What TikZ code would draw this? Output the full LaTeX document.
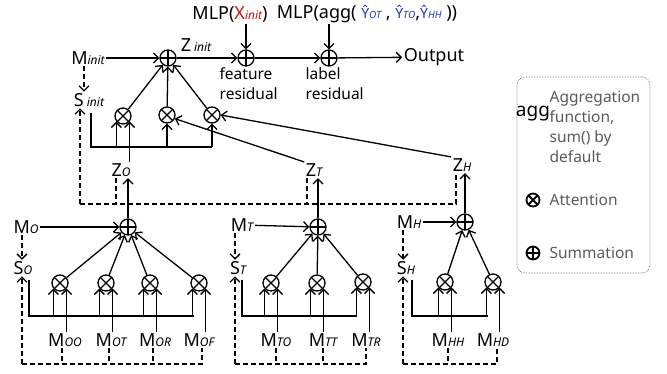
\documentclass[tikz,border=0pt]{standalone}
\usepackage{fontspec}
\setmainfont{Noto Sans}
\usetikzlibrary{positioning, arrows.meta}

\definecolor{xred}{RGB}{200,20,20}
\definecolor{yblue}{RGB}{25,55,205}
\definecolor{legendgray}{RGB}{90,90,90}

\newcommand{\sub}[1]{{\fontsize{12}{12}\selectfont\bfseries\itshape #1}}
\newcommand{\yhat}[1]{{\color{yblue}\fontsize{14}{14}\selectfont Ŷ\fontsize{10}{10}\selectfont\bfseries\itshape #1}}

\begin{document}
\begin{tikzpicture}[
    x=1pt, y=-1pt,
    font=\fontsize{18}{21}\selectfont,
    line width=1.3pt,
    lbl/.style={inner sep=1pt},
    smalltext/.style={font=\fontsize{15.5}{20}\selectfont},
    sum/.style={
      circle,
      draw,
      minimum size=16pt,
      inner sep=0pt,
      path picture={\draw (path picture bounding box.north) -- (path picture bounding box.south)
        (path picture bounding box.west) -- (path picture bounding box.east);}
    },
    att/.style={
      circle,
      draw,
      minimum size=16pt,
      inner sep=0pt,
      path picture={\draw (path picture bounding box.north west) -- (path picture bounding box.south east)
        (path picture bounding box.north east) -- (path picture bounding box.south west);}
    },
    legendbox/.style={
      draw=gray!70!black,
      line width=0.6pt,
      densely dotted,
      rounded corners=8pt,
      minimum width=133pt,
      minimum height=196pt
    },
  arrow/.style={-{Straight Barb[length=5pt,width=10pt]}},
  dasharrow/.style={-{Straight Barb[length=5pt,width=10pt]}, dash pattern=on 5pt off 3pt},
  dashline/.style={dash pattern=on 5pt off 3pt},
]

\newcommand{\attIn}[3]{%
  \draw[arrow] (#1.220 |- #2) -- (#1.220);
  \draw[arrow] (#3.north -| #1.320) -- (#1.320);
}

\useasboundingbox (0,0) rectangle (667,373);

% Top row
\node[lbl] (mlpx) at (230,14) {MLP(\textcolor{xred}{X\sub{init}})};
\node[lbl] (mlpagg) at (367,14) {MLP(agg( \yhat{OT} , \yhat{TO},\yhat{HH} ))};
\node[lbl] (minit) at (88,58) {M\sub{init}};
\node[sum] (sumi) at (168,58) {};
\node[lbl] (zinit) at (196,45) {Z\,\sub{init}};
\node[sum] (sumf) at (246,58) {};
\node[sum] (sumlab) at (329,58) {};
\node[lbl] (output) at (434,57) {Output};
\node[lbl, smalltext, align=left, anchor=north west] (featres) at (218,66) {feature\\residual};
\node[lbl, smalltext, align=left, anchor=north west] (labres) at (304,66) {label\\residual};

\draw[arrow] (minit) -- (sumi);
\draw[arrow] (sumi) -- (sumf);
\draw[arrow] (sumf) -- (sumlab);
\draw[arrow] (sumlab) -- (output);
\draw[arrow] (sumf |- mlpx.south) -- (sumf);
\draw[arrow] (sumlab |- mlpagg.south) -- (sumlab);

% Initial attention
\node[lbl] (sinit) at (89,100) {S\,\sub{init}};
\node[att] (ai1) at (123,116) {};
\node[att] (ai2) at (167,115) {};
\node[att] (ai3) at (212,115) {};
\coordinate (bi) at (91,113);
\coordinate (bie) at (212,147);

\draw[dasharrow] (minit.south -| 84,0) -- (sinit.north -| 84,0);
\draw (bi) |- (bie);
\draw[arrow] (ai1) -- (sumi);
\draw[arrow] (ai2) -- (sumi);
\draw[arrow] (ai3) -- (sumi);

% Z nodes
\node[lbl] (zo) at (121,170) {Z\sub{O}};
\node[lbl] (zt) at (314,170) {Z\sub{T}};
\node[lbl] (zh) at (462,165) {Z\sub{H}};

\attIn{ai1}{bie}{zo}
\draw[arrow] (ai2.south |- bie) -- (ai2);
\draw[arrow] (ai3.south |- bie) -- (ai3);
\draw[arrow] (zt.north west) -- (ai2.-25);
\draw[arrow] (zh.north west) -- (ai3.east);

\coordinate (dl) at (80,204);
\draw[dasharrow] (dl) -- (dl |- sinit.south);
\draw[dashline] (dl) -| ([xshift=-6pt]zh.south);
\draw[dashline] ([xshift=-5pt]zo.south) -- ([xshift=-5pt]zo.south |- dl);
\draw[dashline] ([xshift=-7pt]zt.south) -- ([xshift=-7pt]zt.south |- dl);

% Group O
\node[lbl] (mo) at (26,227) {M\sub{O}};
\node[lbl] (so) at (23,268) {S\sub{O}};
\node[sum] (sumo) at (128,227) {};
\node[att] (ao1) at (60,283) {};
\node[att] (ao2) at (106,283) {};
\node[att] (ao3) at (150,283) {};
\node[att] (ao4) at (199,283) {};
\node[lbl] (moo) at (65,340) {M\sub{OO}};
\node[lbl] (mot) at (111,340) {M\sub{OT}};
\node[lbl] (mor) at (155,340) {M\sub{OR}};
\node[lbl] (mof) at (199,340) {M\sub{OF}};
\coordinate (bo) at (29,280);
\coordinate (boe) at (194,316);
\coordinate (dlo) at (22,364);

\draw[arrow] (mo) -- (sumo);
\draw[arrow] (sumo) -- (sumo |- zo.south);
\draw[arrow] (ao1) -- (sumo);
\draw[arrow] (ao2) -- (sumo);
\draw[arrow] (ao3) -- (sumo);
\draw[arrow] (ao4) -- (sumo);
\draw (bo) |- (boe);
\attIn{ao1}{boe}{moo}
\attIn{ao2}{boe}{mot}
\attIn{ao3}{boe}{mor}
\attIn{ao4}{boe}{mof}
\draw[dasharrow] (mo.south -| dlo) -- (so.north -| dlo);
\draw[dasharrow] (dlo) -- (so.south -| dlo);
\draw[dashline] (dlo) -| ([xshift=3pt]mof.south);
\draw[dashline] ([xshift=-3pt]moo.south) -- ([xshift=-3pt]moo.south |- dlo);
\draw[dashline] ([xshift=-2pt]mot.south) -- ([xshift=-2pt]mot.south |- dlo);
\draw[dashline] ([xshift=-2pt]mor.south) -- ([xshift=-2pt]mor.south |- dlo);

% Group T
\node[lbl] (mt) at (242,225) {M\sub{T}};
\node[lbl] (st) at (238,268) {S\sub{T}};
\node[sum] (sumt) at (318,227) {};
\node[att] (at1) at (271,283) {};
\node[att] (at2) at (317,283) {};
\node[att] (at3) at (363,282) {};
\node[lbl] (mto) at (276,340) {M\sub{TO}};
\node[lbl] (mtt) at (323,340) {M\sub{TT}};
\node[lbl] (mtr) at (366,340) {M\sub{TR}};
\coordinate (bt) at (242,280);
\coordinate (bte) at (357,316);
\coordinate (dlt) at (235,364);

\draw[arrow] (mt) -- (sumt);
\draw[arrow] (sumt) -- (sumt |- zt.south);
\draw[arrow] (at1) -- (sumt);
\draw[arrow] (at2) -- (sumt);
\draw[arrow] (at3) -- (sumt);
\draw (bt) |- (bte);
\attIn{at1}{bte}{mto}
\attIn{at2}{bte}{mtt}
\attIn{at3}{bte}{mtr}
\draw[dasharrow] (mt.south -| dlt) -- (st.north -| dlt);
\draw[dasharrow] (dlt) -- (st.south -| dlt);
\draw[dashline] (dlt) -| (mtr.south);
\draw[dashline] (mto.south) -- (mto.south |- dlt);
\draw[dashline] (mtt.south) -- (mtt.south |- dlt);

% Group H
\node[lbl] (mh) at (409,222) {M\sub{H}};
\node[lbl] (sh) at (406,268) {S\sub{H}};
\node[sum] (sumh) at (465,222) {};
\node[att] (ah1) at (445,282) {};
\node[att] (ah2) at (493,282) {};
\node[lbl] (mhh) at (448,340) {M\sub{HH}};
\node[lbl] (mhd) at (493,340) {M\sub{HD}};
\coordinate (bh) at (412,280);
\coordinate (bhe) at (488,316);
\coordinate (dlh) at (403,364);

\draw[arrow] (mh) -- (sumh);
\draw[arrow] (sumh) -- (sumh |- zh.south);
\draw[arrow] (ah1) -- (sumh);
\draw[arrow] (ah2) -- (sumh);
\draw (bh) |- (bhe);
\attIn{ah1}{bhe}{mhh}
\attIn{ah2}{bhe}{mhd}
\draw[dasharrow] (mh.south -| dlh) -- (sh.north -| dlh);
\draw[dasharrow] (dlh) -- (sh.south -| dlh);
\draw[dashline] (dlh) -| ([xshift=4pt]mhd.south);
\draw[dashline] (mhh.south) -- (mhh.south |- dlh);

% Legend
\node[legendbox] (legend) at (583.5,175) {};
\node[lbl, font=\fontsize{19}{20}\selectfont] (agg) at (533,114) {agg};
\node[lbl, smalltext, anchor=west, align=left, text=legendgray] (aggtext) at (548,127) {Aggregation\\function,\\sum() by\\default};
\node[att, minimum size=13pt, line width=1.8pt] (legatt) at (533,200) {};
\node[lbl, smalltext, anchor=west, text=legendgray] (legatttext) at (548,200) {Attention};
\node[sum, minimum size=13pt, line width=1.8pt] (legsum) at (533,253) {};
\node[lbl, smalltext, anchor=west, text=legendgray] (legsumtext) at (548,253) {Summation};

\end{tikzpicture}
\end{document}
